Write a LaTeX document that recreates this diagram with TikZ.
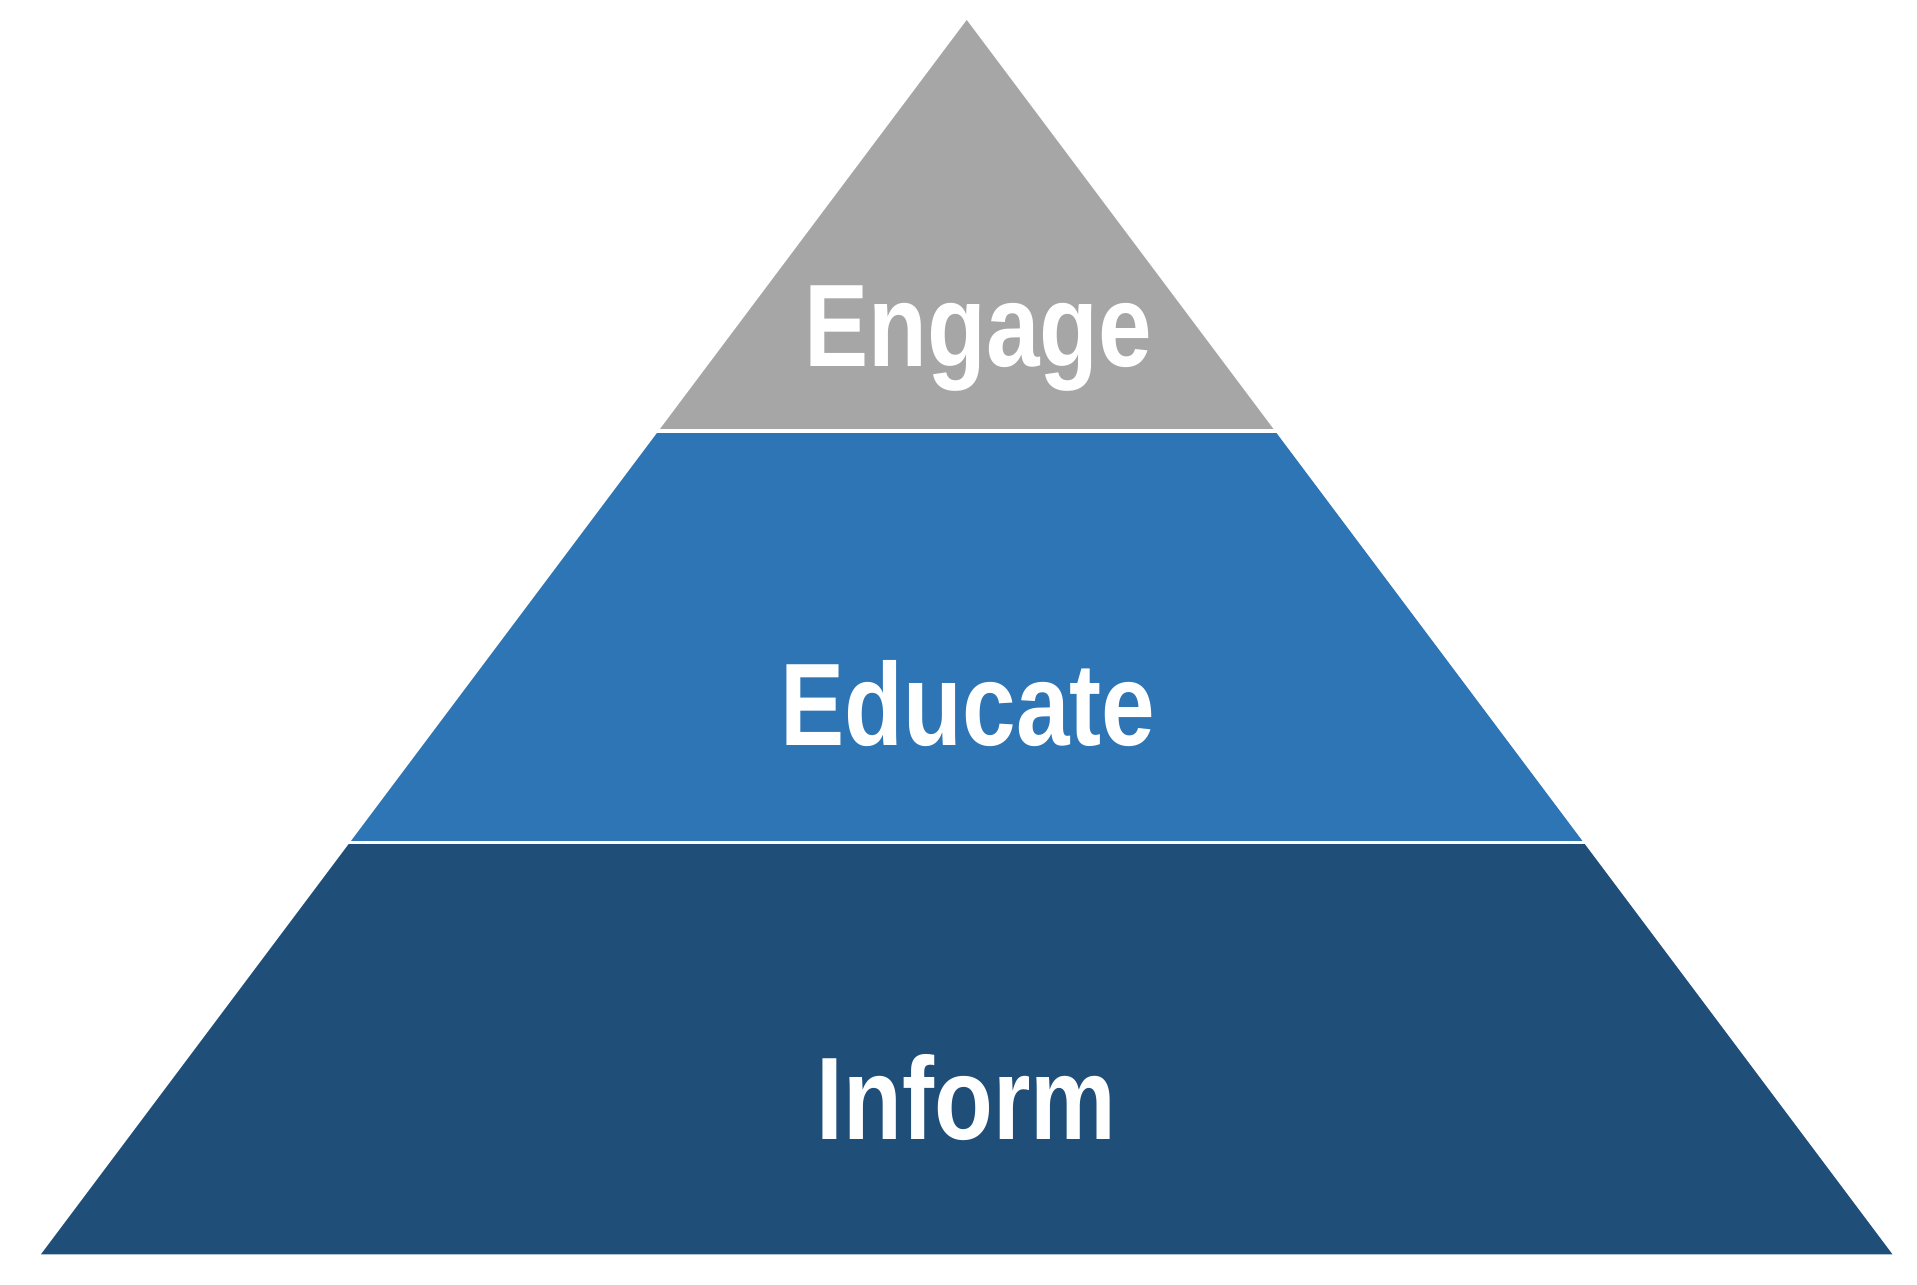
\documentclass[tikz,border=0pt]{standalone}
\usepackage{fontspec}
\setmainfont{Liberation Sans}[FakeStretch=0.82]
\usepackage{tikz}
\usetikzlibrary{calc}
\definecolor{engagegrey}{HTML}{A6A6A6}
\definecolor{educateblue}{HTML}{2E75B6}
\definecolor{informblue}{HTML}{1F4E79}

\begin{document}
\begin{tikzpicture}[
    tiertext/.style={text=white,font=\bfseries\fontsize{33.4}{40}\selectfont,anchor=base,inner sep=0pt},
    gap/.style={white,line width=1.1pt}]
  \useasboundingbox (0,0) rectangle (19.17,12.85);
  \coordinate (apex) at (9.667,12.65);
  \coordinate (bl) at (0.41,0.307);
  \coordinate (br) at (18.924,0.307);
  % three tiers, cut at thirds of the height
  \fill[informblue] (bl) -- (br) -- ($(apex)!2/3!(br)$) -- ($(apex)!2/3!(bl)$) -- cycle;
  \fill[educateblue] ($(apex)!2/3!(bl)$) -- ($(apex)!2/3!(br)$) -- ($(apex)!1/3!(br)$) -- ($(apex)!1/3!(bl)$) -- cycle;
  \fill[engagegrey] ($(apex)!1/3!(bl)$) -- ($(apex)!1/3!(br)$) -- (apex) -- cycle;
  \draw[gap] ($(apex)!1/3!(bl)+(-0.1,0)$) -- ($(apex)!1/3!(br)+(0.1,0)$);
  \draw[gap,line width=0.8pt] ($(apex)!2/3!(bl)+(-0.1,0)$) -- ($(apex)!2/3!(br)+(0.1,0)$);
  \node[tiertext] (engage) at (9.78,9.18) {Engage};
  \node[tiertext] (educate) at (9.68,5.392) {Educate};
  \node[tiertext] (inform) at (9.665,1.455) {Inform};
\end{tikzpicture}
\end{document}
